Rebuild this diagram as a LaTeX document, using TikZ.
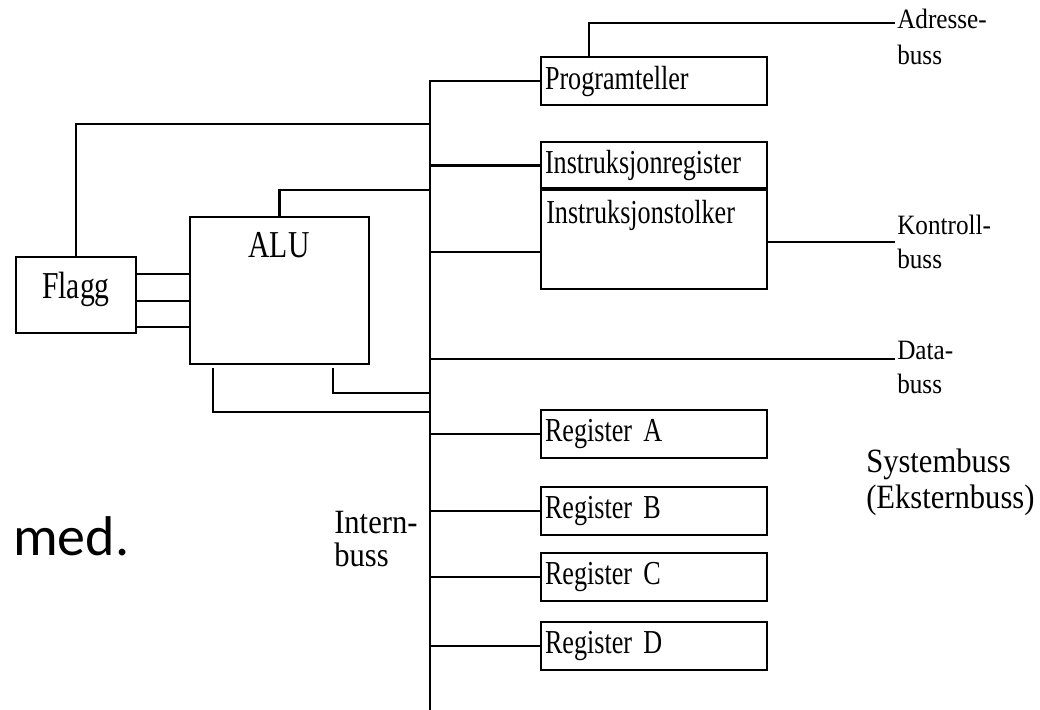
\documentclass[tikz,border=0pt]{standalone}
\usepackage{fontspec}
\usetikzlibrary{calc}
\newfontfamily\boxfont[FakeStretch=0.78]{Liberation Serif}
\newfontfamily\sidefont[FakeStretch=0.9]{Liberation Serif}
\newfontfamily\busfont[FakeStretch=0.9]{Liberation Serif}
\newfontfamily\bodyfont{Carlito}
\begin{document}
\begin{tikzpicture}[x=1pt,y=-1pt,line width=2.5pt,line cap=rect,
  unit/.style={draw,line width=2.5pt,anchor=north west,inner sep=0pt,outer sep=0pt,
    minimum width=#1},
  reg/.style={unit=226pt,minimum height=48pt,text width=218pt,align=left,
    font=\boxfont\fontsize{33.5}{36}\selectfont},
  big/.style={font=\boxfont\fontsize{38}{40}\selectfont,inner sep=0pt},
  buslabel/.style={anchor=base west,inner sep=0pt,font=\busfont\fontsize{28}{30}\selectfont},
  sidelabel/.style={anchor=base west,inner sep=0pt,font=\sidefont\fontsize{34}{36}\selectfont}]
\useasboundingbox (0,0) rectangle (1040,709);

% units attached to the internal bus
\node[reg] (prog) at (541,57) {Programteller};
\node[reg,minimum height=47pt] (ireg) at (541,142) {Instruksjonregister};
\node[unit=226pt,minimum height=100pt] (itolk) at (541,189) {};
\node[anchor=base west,inner sep=0pt,font=\boxfont\fontsize{33.5}{36}\selectfont]
  (itolktxt) at (545,223) {Instruksjonstolker};
\draw[line width=4pt,line cap=butt] (itolk.north west) -- (itolk.north east);
\node[reg] (rega) at (541,410) {Register A};
\node[reg] (regb) at (541,487) {Register B};
\node[reg] (regc) at (541,553) {Register C};
\node[reg] (regd) at (541,622) {Register D};

% ALU and flag register
\node[unit=179pt,minimum height=147pt] (alu) at (190,217) {};
\node[big,anchor=base] (alutxt) at (279,257) {ALU};
\node[unit=120pt,minimum height=76pt] (flagg) at (16,257) {};
\node[big,anchor=base] (flaggtxt) at (76,298) {Flagg};

% internal bus
\coordinate (bustop) at (430,81);
\coordinate (busbot) at (430,712);
\draw (prog.west) -- (bustop) -- (busbot);

% connections to the internal bus
\draw (flagg.north) |- (430,124);
\draw (430,165.5) -- (ireg.west);
\draw (alu.north) |- (430,190);
\draw (430,252) -- (itolk.west |- 0,252);
\draw ($(alu.south west)+(23,5)$) |- (430,412);
\draw ($(alu.south east)+(-36,5)$) |- (430,393);
\foreach \r in {rega,regb,regc,regd}
  \draw (\r.west -| bustop) -- (\r.west);
\foreach \y in {274,301,327}
  \draw (flagg.east |- 0,\y) -- (alu.west |- 0,\y);

% system bus
\coordinate (adr) at (894,23);
\coordinate (ktl) at (894,242);
\coordinate (dat) at (894,359);
\draw ($(prog.north west)+(48,0)$) |- (adr);
\draw (itolk.east |- ktl) -- (ktl);
\draw (430,359) -- (dat);

\node[buslabel] (adrl) at (896,29) {Adresse-};
\node[buslabel] (adrb) at (896,64) {buss};
\node[buslabel] (ktll) at (896,234) {Kontroll-};
\node[buslabel] (ktlb) at (896,268) {buss};
\node[buslabel] (datl) at (896,359) {Data-};
\node[buslabel] (datb) at (896,393) {buss};

\node[sidelabel] (sys) at (865,472) {Systembuss};
\node[sidelabel] (ext) at (865,508) {(Eksternbuss)};
\node[sidelabel] (intl) at (333,533) {Intern-};
\node[sidelabel] (intb) at (333,566) {buss};

\node[anchor=base west,inner sep=0pt,font=\bodyfont\fontsize{56}{60}\selectfont]
  (med) at (12,555) {med.};
\end{tikzpicture}
\end{document}
